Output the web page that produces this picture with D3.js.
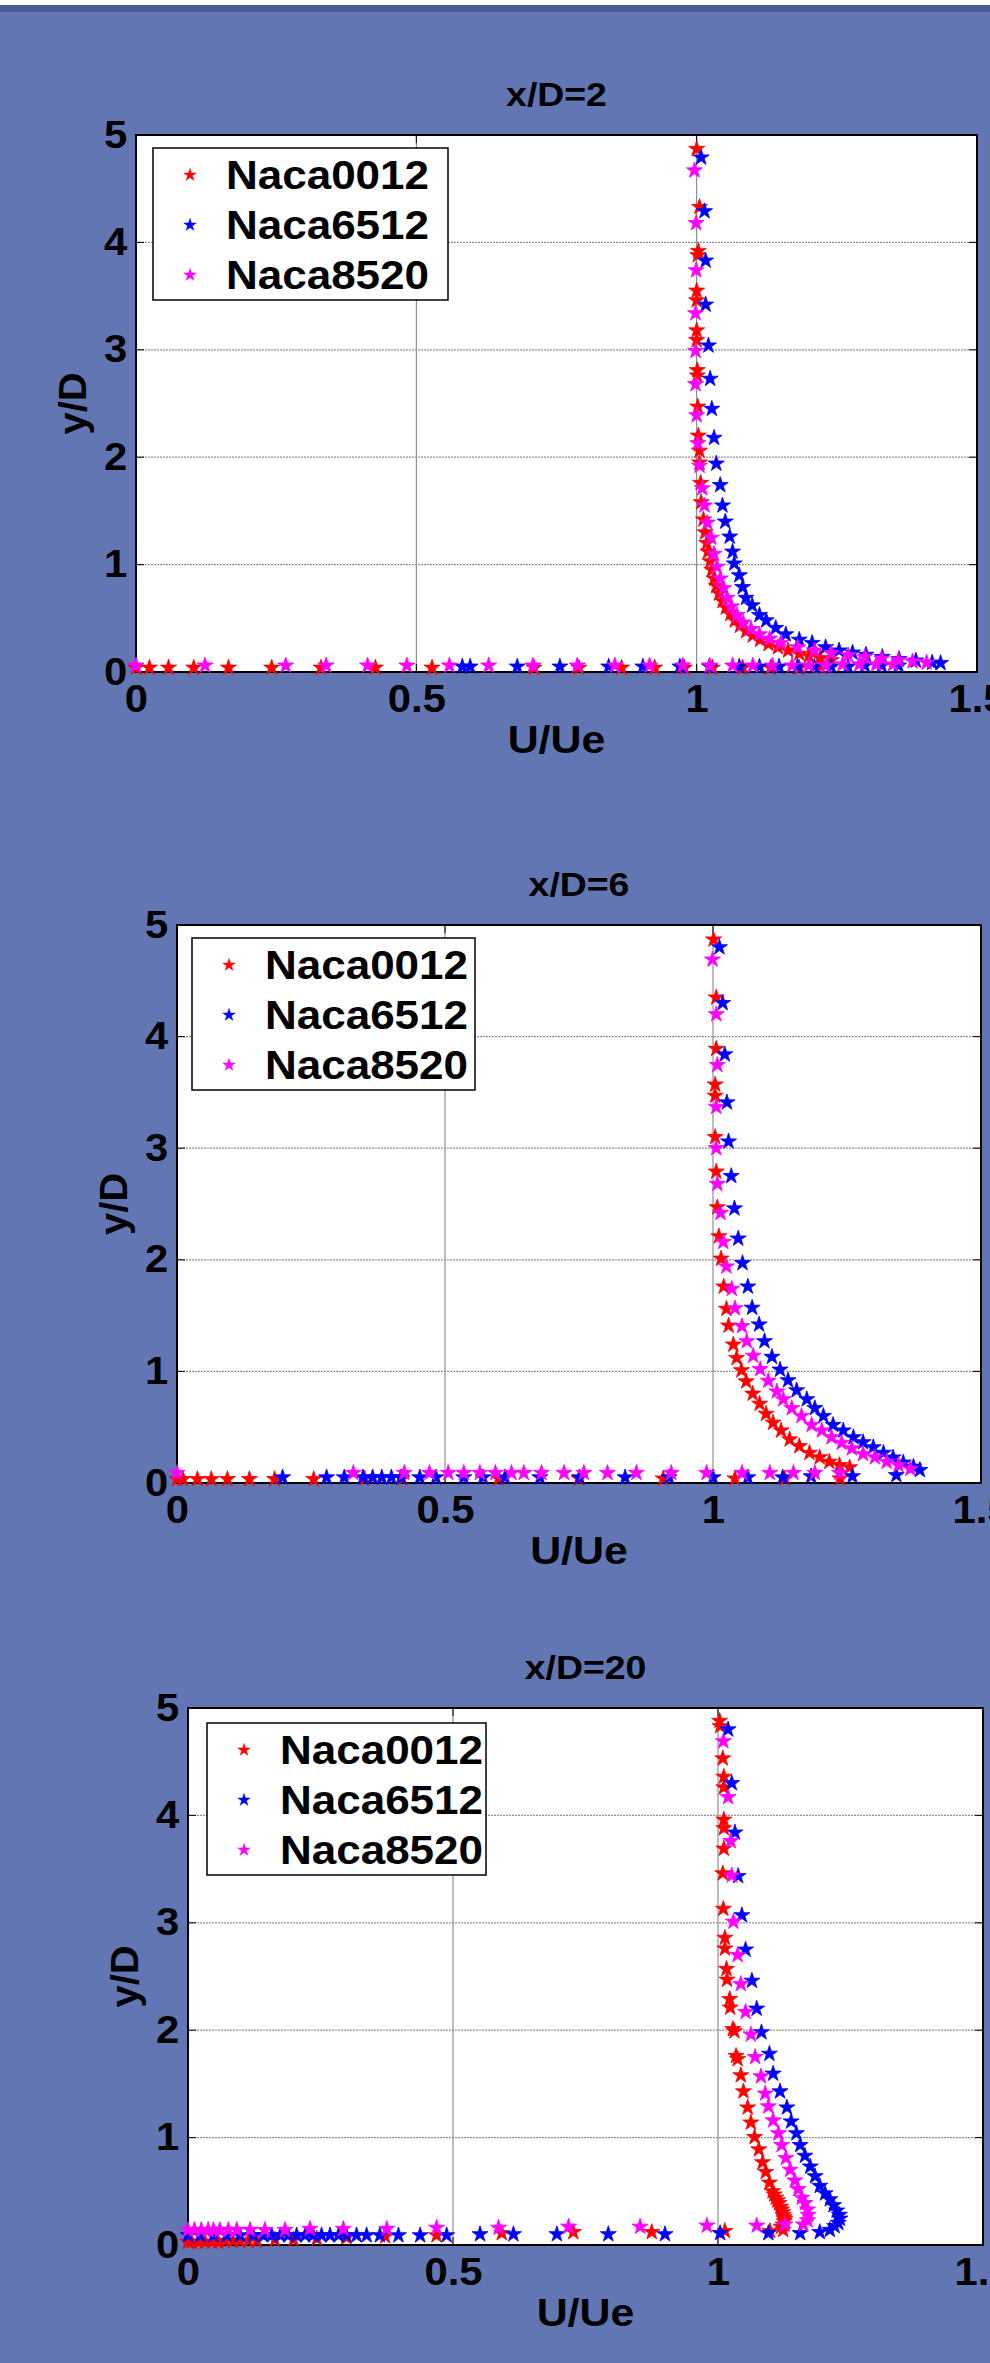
<!DOCTYPE html>
<html>
<head>
<meta charset="utf-8">
<script src="https://cdn.jsdelivr.net/npm/d3@7"></script>
<style>
body { margin: 0; background: #6176b3; }
svg { display: block; }
text { font-family: "Liberation Sans", Arial, sans-serif; font-weight: bold; fill: #000; }
</style>
</head>
<body>
<div id="chart"></div>
<script>
// ---- data: [U/Ue, y/D] ----
var seriesNames = ["Naca0012", "Naca6512", "Naca8520"];
var seriesColors = ["#ff0000", "#0000ff", "#ff00ff"];
var panelTitles = ["x/D=2", "x/D=6", "x/D=20"];
var xTicks = [0, 0.5, 1, 1.5];
var yTicks = [0, 1, 2, 3, 4, 5];

var p1Naca0012 = [[1.000,4.87],[1.005,4.33],[1.003,3.92],[1.002,3.88],[1.000,3.55],[1.000,3.46],[1.000,3.18],[1.000,3.09],[1.001,2.81],[1.001,2.76],[1.002,2.47],[1.003,2.20],[1.005,2.06],[1.005,1.95],[1.007,1.76],[1.008,1.58],[1.012,1.42],[1.015,1.30],[1.018,1.20],[1.020,1.12],[1.024,1.03],[1.027,0.95],[1.031,0.87],[1.035,0.80],[1.040,0.73],[1.046,0.66],[1.052,0.60],[1.060,0.54],[1.068,0.48],[1.077,0.43],[1.088,0.38],[1.100,0.34],[1.113,0.30],[1.128,0.26],[1.145,0.23],[1.163,0.20],[1.183,0.17],[1.200,0.15],[1.220,0.13],[1.240,0.11],
  [0.000,0.04],[0.024,0.04],[0.058,0.04],[0.103,0.04],[0.165,0.04],[0.242,0.04],[0.330,0.04],[0.427,0.04],[0.528,0.04],[0.710,0.04],[0.790,0.04],[0.866,0.04],[0.925,0.04],[0.978,0.04],[1.028,0.04],[1.082,0.04],[1.132,0.04],[1.183,0.04],[1.220,0.05]];
var p1Naca6512 = [[1.008,4.79],[1.014,4.29],[1.016,3.83],[1.016,3.42],[1.021,3.04],[1.024,2.73],[1.027,2.45],[1.031,2.18],[1.035,1.94],[1.042,1.74],[1.046,1.55],[1.051,1.40],[1.059,1.26],[1.064,1.12],[1.067,1.01],[1.076,0.90],[1.082,0.79],[1.088,0.69],[1.099,0.62],[1.112,0.53],[1.124,0.48],[1.141,0.41],[1.159,0.35],[1.183,0.30],[1.206,0.27],[1.230,0.23],[1.254,0.20],[1.278,0.18],[1.302,0.16],[1.331,0.14],[1.361,0.12],[1.391,0.106],[1.420,0.087],[1.435,0.083],
  [0.582,0.05],[0.596,0.05],[0.680,0.05],[0.756,0.05],[0.843,0.05],[0.904,0.05],[0.970,0.05],[1.023,0.05],[1.076,0.05],[1.112,0.05],[1.147,0.05],[1.180,0.05],[1.210,0.05],[1.240,0.05],[1.270,0.05],[1.300,0.06],[1.330,0.06],[1.360,0.06]];
var p1Naca8520 = [[0.996,4.67],[0.999,4.18],[0.999,3.74],[0.998,3.34],[0.998,2.99],[0.998,2.68],[1.000,2.39],[1.002,2.13],[1.005,1.92],[1.010,1.71],[1.014,1.55],[1.019,1.39],[1.026,1.25],[1.031,1.10],[1.036,0.98],[1.042,0.87],[1.048,0.78],[1.054,0.69],[1.062,0.61],[1.072,0.53],[1.083,0.46],[1.097,0.40],[1.112,0.35],[1.130,0.31],[1.150,0.27],[1.180,0.23],[1.210,0.20],[1.240,0.175],[1.270,0.155],[1.300,0.14],[1.330,0.125],[1.360,0.11],[1.385,0.098],[1.410,0.087],
  [0.000,0.06],[0.123,0.06],[0.267,0.06],[0.339,0.06],[0.413,0.06],[0.483,0.06],[0.559,0.06],[0.629,0.06],[0.708,0.06],[0.787,0.06],[0.854,0.06],[0.916,0.06],[0.975,0.06],[1.023,0.06],[1.064,0.06],[1.100,0.06],[1.135,0.06],[1.170,0.06],[1.200,0.06],[1.230,0.06],[1.260,0.07],[1.290,0.07],[1.320,0.07],[1.350,0.07]];

var p2Naca0012 = [[1.001,4.87],[1.006,4.35],[1.006,3.89],[1.004,3.57],[1.004,3.47],[1.004,3.10],[1.006,2.79],[1.008,2.47],[1.011,2.21],[1.015,2.01],[1.020,1.76],[1.025,1.56],[1.029,1.41],[1.038,1.24],[1.044,1.12],[1.053,1.01],[1.062,0.91],[1.074,0.80],[1.087,0.71],[1.099,0.62],[1.112,0.54],[1.127,0.47],[1.143,0.39],[1.161,0.33],[1.180,0.27],[1.199,0.23],[1.217,0.19],[1.236,0.16],[1.255,0.14],
  [0.000,0.035],[0.011,0.035],[0.038,0.035],[0.064,0.035],[0.094,0.035],[0.135,0.035],[0.182,0.035],[0.255,0.035],[0.350,0.04],[0.420,0.04],[0.600,0.04],[0.750,0.04],[0.907,0.04],[1.041,0.04],[1.134,0.04],[1.237,0.04]];
var p2Naca6512 = [[1.012,4.80],[1.018,4.30],[1.022,3.84],[1.026,3.41],[1.029,3.06],[1.034,2.75],[1.040,2.46],[1.047,2.19],[1.055,1.97],[1.065,1.76],[1.073,1.57],[1.086,1.42],[1.096,1.27],[1.110,1.13],[1.125,1.015],[1.140,0.92],[1.156,0.83],[1.175,0.75],[1.190,0.67],[1.206,0.60],[1.224,0.52],[1.243,0.47],[1.262,0.41],[1.280,0.365],[1.299,0.32],[1.318,0.27],[1.336,0.228],[1.355,0.183],[1.374,0.146],[1.386,0.116],
  [0.197,0.05],[0.279,0.05],[0.312,0.05],[0.347,0.05],[0.365,0.05],[0.382,0.05],[0.400,0.05],[0.418,0.05],[0.453,0.05],[0.483,0.05],[0.535,0.05],[0.571,0.05],[0.612,0.05],[0.677,0.05],[0.751,0.05],[0.836,0.05],[0.918,0.05],[1.000,0.05],[1.065,0.05],[1.130,0.05],[1.183,0.06],[1.260,0.06],[1.342,0.07]];
var p2Naca8520 = [[0.999,4.69],[1.006,4.20],[1.008,3.745],[1.006,3.37],[1.006,3.00],[1.008,2.68],[1.014,2.42],[1.019,2.16],[1.025,1.94],[1.035,1.74],[1.041,1.565],[1.054,1.405],[1.063,1.27],[1.075,1.14],[1.088,1.02],[1.103,0.915],[1.119,0.82],[1.131,0.75],[1.147,0.67],[1.165,0.60],[1.184,0.52],[1.203,0.47],[1.221,0.41],[1.240,0.36],[1.259,0.31],[1.280,0.26],[1.302,0.23],[1.324,0.19],[1.346,0.16],[1.368,0.127],
  [0.000,0.09],[0.329,0.09],[0.424,0.09],[0.471,0.09],[0.506,0.09],[0.535,0.09],[0.565,0.09],[0.594,0.09],[0.624,0.09],[0.647,0.09],[0.680,0.09],[0.722,0.09],[0.759,0.09],[0.803,0.09],[0.857,0.09],[0.922,0.09],[0.988,0.09],[1.054,0.09],[1.106,0.09],[1.150,0.09],[1.190,0.09],[1.236,0.09]];

var p3Naca0012 = [[1.003,4.88],[1.004,4.83],[1.009,4.53],[1.011,4.36],[1.011,4.26],[1.011,3.96],[1.011,3.88],[1.011,3.69],[1.009,3.46],[1.010,3.13],[1.013,2.86],[1.013,2.76],[1.016,2.57],[1.017,2.47],[1.022,2.29],[1.023,2.21],[1.028,2.01],[1.031,1.99],[1.034,1.76],[1.037,1.73],[1.043,1.58],[1.048,1.43],[1.056,1.28],[1.062,1.14],[1.069,1.005],[1.077,0.89],[1.084,0.77],[1.090,0.68],[1.097,0.58],[1.103,0.50],[1.106,0.47],[1.109,0.44],[1.112,0.415],[1.115,0.39],[1.118,0.355],[1.120,0.33],[1.122,0.305],[1.123,0.28],[1.125,0.26],[1.126,0.24],[1.125,0.22],[1.123,0.19],[1.119,0.17],
  [0.000,0.03],[0.007,0.03],[0.019,0.03],[0.032,0.03],[0.045,0.03],[0.057,0.03],[0.070,0.04],[0.085,0.04],[0.098,0.04],[0.114,0.04],[0.130,0.04],[0.164,0.05],[0.199,0.05],[0.243,0.06],[0.299,0.07],[0.372,0.08],[0.469,0.09],[0.592,0.11],[0.727,0.12],[0.875,0.12],[1.013,0.13],[1.098,0.13],[1.123,0.14]];
var p3Naca6512 = [[1.019,4.80],[1.026,4.30],[1.032,3.84],[1.038,3.435],[1.045,3.07],[1.052,2.75],[1.064,2.46],[1.073,2.20],[1.082,1.98],[1.097,1.78],[1.104,1.595],[1.117,1.43],[1.130,1.28],[1.138,1.15],[1.148,1.04],[1.155,0.93],[1.164,0.83],[1.174,0.73],[1.183,0.64],[1.192,0.55],[1.202,0.48],[1.211,0.425],[1.218,0.37],[1.224,0.32],[1.229,0.28],[1.230,0.245],[1.227,0.205],[1.220,0.175],
  [0.000,0.09],[0.023,0.09],[0.048,0.09],[0.073,0.09],[0.098,0.09],[0.123,0.09],[0.142,0.09],[0.158,0.09],[0.174,0.09],[0.189,0.09],[0.205,0.09],[0.221,0.09],[0.236,0.09],[0.252,0.09],[0.268,0.09],[0.284,0.09],[0.299,0.09],[0.318,0.09],[0.337,0.09],[0.362,0.09],[0.397,0.09],[0.438,0.09],[0.488,0.09],[0.551,0.10],[0.614,0.10],[0.696,0.10],[0.793,0.10],[0.900,0.10],[1.004,0.11],[1.095,0.11],[1.155,0.11],[1.192,0.12],[1.211,0.14]];
var p3Naca8520 = [[1.010,4.69],[1.019,4.17],[1.024,3.76],[1.026,3.44],[1.029,3.01],[1.037,2.70],[1.043,2.43],[1.052,2.17],[1.062,1.96],[1.070,1.75],[1.081,1.57],[1.089,1.41],[1.095,1.29],[1.104,1.16],[1.114,1.04],[1.120,0.93],[1.128,0.81],[1.136,0.70],[1.145,0.60],[1.151,0.52],[1.158,0.44],[1.164,0.39],[1.169,0.33],[1.170,0.28],[1.169,0.23],[1.161,0.19],
  [0.000,0.14],[0.012,0.14],[0.025,0.14],[0.038,0.14],[0.048,0.14],[0.060,0.14],[0.076,0.14],[0.092,0.14],[0.117,0.14],[0.145,0.14],[0.183,0.14],[0.230,0.15],[0.293,0.15],[0.375,0.15],[0.469,0.16],[0.586,0.16],[0.718,0.17],[0.853,0.17],[0.979,0.18],[1.073,0.18],[1.126,0.19]];

// ---- layout ----
var W = 990, H = 2363;
var stretch = 'scale(1.1,1)';

var panels = [
  {title: panelTitles[0], data: [p1Naca0012, p1Naca6512, p1Naca8520], left: 136, top: 135, width: 841, height: 537, legX: 17, legY: 13, legW: 295},
  {title: panelTitles[1], data: [p2Naca0012, p2Naca6512, p2Naca8520], left: 177, top: 925, width: 804, height: 558, legX: 15, legY: 13, legW: 283},
  {title: panelTitles[2], data: [p3Naca0012, p3Naca6512, p3Naca8520], left: 188, top: 1708, width: 795, height: 537, legX: 19, legY: 15, legW: 279}
];

var svg = d3.select('#chart').append('svg')
    .attr('width', W)
    .attr('height', H);

svg.append('rect').attr('width', W).attr('height', H).attr('fill', '#6176b3');
svg.append('rect').attr('width', W).attr('height', 5).attr('fill', '#ffffff');
svg.append('rect').attr('y', 5).attr('width', W).attr('height', 7).attr('fill', '#4a5c93');

panels.forEach(drawPanel);

function drawPanel(p) {
    var x = d3.scaleLinear().domain([0, 1.5]).range([0, p.width]);
    var y = d3.scaleLinear().domain([0, 5]).range([p.height, 0]);

    var g = svg.append('g')
        .attr('transform', 'translate(' + p.left + ',' + p.top + ')');

    g.append('rect')
        .attr('width', p.width)
        .attr('height', p.height)
        .attr('fill', '#ffffff');

    // grid
    g.selectAll('line.gx')
        .data(xTicks.slice(1, -1))
        .enter().append('line')
        .attr('class', 'gx')
        .attr('x1', function (d) { return x(d); })
        .attr('x2', function (d) { return x(d); })
        .attr('y1', 0)
        .attr('y2', p.height)
        .attr('stroke', '#7a7a7a')
        .attr('stroke-width', 1);

    g.selectAll('line.gy')
        .data(yTicks.slice(1, -1))
        .enter().append('line')
        .attr('class', 'gy')
        .attr('x1', 0)
        .attr('x2', p.width)
        .attr('y1', function (d) { return y(d); })
        .attr('y2', function (d) { return y(d); })
        .attr('stroke', '#909090')
        .attr('stroke-width', 1.2)
        .attr('stroke-dasharray', '2,1');

    // inward ticks on all four sides
    var tl = 8;
    xTicks.forEach(function (t) {
        g.append('line').attr('x1', x(t)).attr('x2', x(t)).attr('y1', p.height).attr('y2', p.height - tl).attr('stroke', '#000');
        g.append('line').attr('x1', x(t)).attr('x2', x(t)).attr('y1', 0).attr('y2', tl).attr('stroke', '#000');
    });
    yTicks.forEach(function (t) {
        g.append('line').attr('x1', 0).attr('x2', tl).attr('y1', y(t)).attr('y2', y(t)).attr('stroke', '#000');
        g.append('line').attr('x1', p.width).attr('x2', p.width - tl).attr('y1', y(t)).attr('y2', y(t)).attr('stroke', '#000');
    });

    g.append('rect')
        .attr('width', p.width)
        .attr('height', p.height)
        .attr('fill', 'none')
        .attr('stroke', '#000')
        .attr('stroke-width', 2);

    // axis labels
    var xa = g.append('g')
        .attr('transform', 'translate(0,' + p.height + ')')
        .call(d3.axisBottom(x).tickValues(xTicks).tickSize(0).tickPadding(13).tickFormat(d3.format('')));
    var ya = g.append('g')
        .call(d3.axisLeft(y).tickValues(yTicks).tickSize(0).tickPadding(8).tickFormat(d3.format('')));
    [xa, ya].forEach(function (a) {
        a.select('.domain').remove();
        a.attr('font-size', 38)
            .attr('font-family', '"Liberation Sans", Arial, sans-serif')
            .attr('font-weight', 'bold')
            .attr('color', '#000');
        a.selectAll('text').attr('transform', stretch);
    });

    // markers: red, blue, then magenta on top
    p.data.forEach(function (series, i) {
        g.append('g').selectAll('path')
            .data(series)
            .enter().append('path')
            .attr('d', d3.symbol(d3.symbolStar, 80))
            .attr('transform', function (d) { return 'translate(' + x(d[0]) + ',' + y(d[1]) + ')'; })
            .attr('fill', seriesColors[i])
            .attr('stroke', seriesColors[i])
            .attr('stroke-width', 0.8);
    });

    // title and axis titles
    g.append('text')
        .attr('transform', 'translate(' + (p.width / 2) + ',-29) ' + stretch)
        .attr('text-anchor', 'middle')
        .attr('font-size', 34)
        .text(p.title);

    g.append('text')
        .attr('transform', 'translate(' + (p.width / 2) + ',' + (p.height + 81) + ') ' + stretch)
        .attr('text-anchor', 'middle')
        .attr('font-size', 39)
        .text('U/Ue');

    g.append('text')
        .attr('transform', 'translate(-50,' + (p.height / 2) + ') rotate(-90) scale(1.05,1)')
        .attr('text-anchor', 'middle')
        .attr('font-size', 38)
        .text('y/D');

    // legend
    var lg = g.append('g')
        .attr('transform', 'translate(' + p.legX + ',' + p.legY + ')');
    lg.append('rect')
        .attr('width', p.legW)
        .attr('height', 152)
        .attr('fill', '#ffffff')
        .attr('stroke', '#000')
        .attr('stroke-width', 1.5);
    seriesNames.forEach(function (name, i) {
        lg.append('path')
            .attr('d', d3.symbol(d3.symbolStar, 48))
            .attr('transform', 'translate(37,' + (27 + 50 * i) + ')')
            .attr('fill', seriesColors[i])
            .attr('stroke', seriesColors[i])
            .attr('stroke-width', 0.5);
        lg.append('text')
            .attr('transform', 'translate(73,' + (41 + 50 * i) + ') ' + stretch)
            .attr('font-size', 40)
            .text(name);
    });
}
</script>
</body>
</html>
